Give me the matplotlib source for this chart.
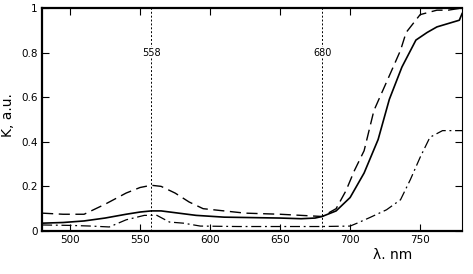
from matplotlib import pyplot as plt

## DATA
# Solid curve
solid_x = [480, 495, 510, 525, 540, 550, 558, 565, 575, 590, 610, 630, 650, 665, 675, 680, 690,
           700, 710, 720, 728, 737, 747, 755, 762, 770, 778, 780]
solid_y = [0.035, 0.038, 0.045, 0.058, 0.075, 0.085, 0.09, 0.09, 0.082, 0.07, 0.062, 0.06, 0.058,
           0.055, 0.058, 0.065, 0.09, 0.15, 0.26, 0.41, 0.59, 0.735, 0.856, 0.89, 0.915, 0.93, 0.945, 0.975]

# Dashed curve
dash_x = [480, 495, 510, 525, 540, 550, 558, 565, 575, 585, 595, 610, 625, 650, 665, 680, 690,
          697, 703, 710, 717, 729, 736, 740, 750, 762, 770, 780]
dash_y = [0.08, 0.075, 0.075, 0.12, 0.17, 0.195, 0.205, 0.2, 0.17, 0.13, 0.1, 0.09, 0.08, 0.075,
          0.07, 0.065, 0.1, 0.18, 0.27, 0.36, 0.54, 0.71, 0.81, 0.89, 0.97, 0.99, 0.99, 1.0]

# Dash-dot curve
dd_x = [480, 500, 515, 528, 540, 553, 562, 571, 581, 593, 620, 650, 680, 700, 705, 714, 726,
        736, 743, 750, 757, 766, 780]
dd_y = [0.027, 0.025, 0.022, 0.018, 0.05, 0.07, 0.07, 0.04, 0.035, 0.022, 0.02, 0.02, 0.02, 0.022,
        0.035, 0.06, 0.095, 0.14, 0.23, 0.33, 0.42, 0.45, 0.45]

# Marker lines
peaks = [558, 680]

x_ticks = [500, 550, 600, 650, 700, 750]
y_ticks = [0, 0.2, 0.4, 0.6, 0.8, 1]
y_tick_labels = ["0", "0.2", "0.4", "0.6", "0.8", "1"]


def main():
    plt.rcParams['font.family'] = ['Liberation Sans Narrow', 'DejaVu Sans']

    fig = plt.figure(figsize=(4.73, 2.74), dpi=100)
    ax = fig.add_axes([0.089, 0.157, 0.888, 0.814])

    ax.plot(solid_x, solid_y, '-', color='k', linewidth=1.2)
    ax.plot(dash_x, dash_y, color='k', linewidth=1.0, dashes=(8, 4))
    ax.plot(dd_x, dd_y, color='k', linewidth=0.9, dashes=(8, 3, 1.5, 3))

    for p in peaks:
        ax.axvline(p, color='k', linestyle=(0, (2, 2)), linewidth=0.7)
        ax.text(p, 0.8, str(p), ha='center', va='center', fontsize=7,
                bbox=dict(facecolor='white', edgecolor='none', pad=0.5))

    ax.set_xlim(480, 780)
    ax.set_ylim(0, 1)
    ax.set_xticks(x_ticks)
    ax.set_yticks(y_ticks)
    ax.set_yticklabels(y_tick_labels)
    ax.tick_params(direction='in', length=5, width=0.8, top=True, right=True,
                   labelsize=7.5, pad=3)

    for side in ['left', 'bottom', 'top']:
        ax.spines[side].set_linewidth(1.6)
    ax.spines['right'].set_linewidth(0.8)

    ax.set_ylabel("K, a.u.", fontsize=10, family='DejaVu Sans')
    ax.yaxis.set_label_coords(-0.065, 0.52)
    fig.text(0.83, 0.07, "λ. nm", fontsize=10, family='DejaVu Sans', ha='center', va='center')

    fig.savefig("out.png", dpi=100)


if __name__ == "__main__":
    main()
